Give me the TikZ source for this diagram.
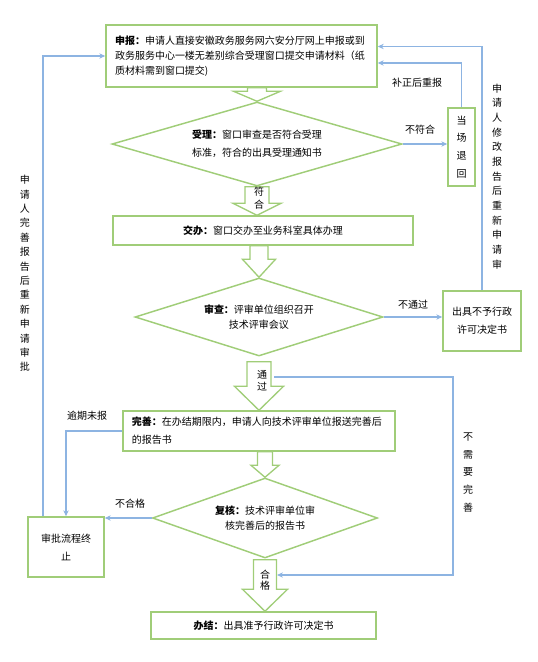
\documentclass[tikz,border=0pt]{standalone}
\usepackage{fontspec}
\setmainfont{Noto Sans CJK SC}
\usetikzlibrary{arrows.meta,calc,shapes.geometric}
\definecolor{boxgreen}{RGB}{160,205,120}
\definecolor{lineblue}{RGB}{141,180,226}

% hollow block arrow: start, tip, shaft half width, head half width, head length
\newcommand{\hollowarrow}[5]{%
  \draw[hollow] let \p1=(#1), \p2=(#2) in
    (\x2-#3,\y1) -- (\x2-#3,\y2+#5) -- (\x2-#4,\y2+#5) -- (\x2,\y2)
    -- (\x2+#4,\y2+#5) -- (\x2+#3,\y2+#5) -- (\x2+#3,\y1) -- cycle;}

\begin{document}
\begin{tikzpicture}[
  x=0.75pt,y=-0.75pt,
  font=\fontsize{7.5pt}{11.25pt}\selectfont,
  box/.style={draw=boxgreen,line width=1.1pt,inner sep=0pt,align=center},
  dia/.style={draw=boxgreen,line width=1.1pt,diamond,inner sep=0pt,align=center},
  hollow/.style={draw=boxgreen,line width=1pt},
  flow/.style={draw=lineblue,line width=.8pt,-{Stealth[length=4.5pt,width=4pt]}},
  lbl/.style={inner sep=0pt},
  vlbl/.style={inner sep=0pt,align=center}
]
\useasboundingbox (0,0) rectangle (538,662);

% main column
\node[box,minimum width=203.25pt,minimum height=46.5pt,text width=189.75pt,align=left] (sb) at (241.5,56)
  {\textbf{申报：}申请人直接安徽政务服务网六安分厅网上申报或到\\政务服务中心一楼无差别综合受理窗口提交申请材料（纸\\质材料需到窗口提交)};
\node[dia,minimum width=217.5pt,minimum height=63pt,shape aspect=3.45,align=left,
  font=\fontsize{7.5pt}{13.5pt}\selectfont] (sl) at (257,144)
  {\textbf{受理：}窗口审查是否符合受理\\标准，符合的出具受理通知书};
\node[box,minimum width=225pt,minimum height=21.75pt] (jb) at (263,230.5)
  {\textbf{交办：}窗口交办至业务科室具体办理};
\node[dia,minimum width=186pt,minimum height=58.5pt,shape aspect=3.18] (sc) at (259,317)
  {\textbf{审查：}评审单位组织召开\\技术评审会议};
\node[box,minimum width=204pt,minimum height=30pt,text width=190.5pt,align=left,
  font=\fontsize{7.5pt}{13.5pt}\selectfont] (ws) at (259,431)
  {\textbf{完善：}在办结期限内，申请人向技术评审单位报送完善后\\的报告书};
\node[dia,minimum width=168.75pt,minimum height=60pt,shape aspect=2.8] (fh) at (265,518)
  {\textbf{复核：}技术评审单位审\\核完善后的报告书};
\node[box,minimum width=168.75pt,minimum height=20.25pt] (bj) at (263.5,625.5)
  {\textbf{办结：}出具准予行政许可决定书};

% side boxes
\node[box,minimum width=20.25pt,minimum height=58.5pt,font=\fontsize{7.5pt}{13.3pt}\selectfont] (dcth) at (461.5,147)
  {当\\场\\退\\回};
\node[box,minimum width=58.5pt,minimum height=45pt,font=\fontsize{7.5pt}{13.5pt}\selectfont] (byxk) at (482,321)
  {出具不予行政\\许可决定书};
\node[box,minimum width=57pt,minimum height=45pt,font=\fontsize{7.5pt}{13.5pt}\selectfont] (zz) at (66,547)
  {审批流程终\\止};

% block arrows
\hollowarrow{sb.south}{sl.north}{7.1pt}{17.6pt}{7.5pt}
\hollowarrow{sl.south}{jb.north -| sl.south}{9pt}{18pt}{9pt}
\hollowarrow{jb.south}{sc.north}{6.75pt}{12.4pt}{13.5pt}
\hollowarrow{$(sc.south)+(0,5)$}{ws.north}{9pt}{18.4pt}{18pt}
\hollowarrow{ws.south}{fh.north}{5.6pt}{10.5pt}{9pt}
\hollowarrow{$(fh.south)+(0,1)$}{bj.north -| fh.south}{8.6pt}{16.9pt}{16.5pt}
\node[vlbl,font=\fontsize{7.5pt}{9.75pt}\selectfont] (fhtxt) at (259,198.5) {符\\合};
\node[vlbl,font=\fontsize{7.5pt}{9pt}\selectfont] (tgtxt) at (262,381) {通\\过};
\node[vlbl,font=\fontsize{7.5pt}{8.25pt}\selectfont] (hgtxt) at (265,580.5) {合\\格};

% blue return lines
\coordinate (lx) at (43,0);
\coordinate (rx) at (453,0);
\coordinate (tg) at (274,377);
\coordinate (hg) at (277,575);
\draw[flow] (zz.north -| lx) |- (sb.west);
\draw[flow] (ws.west) -| (zz.north);
\draw[flow] (fh.west) -- (fh.west -| zz.east);
\draw[flow] (sl.east) -- (sl.east -| dcth.west);
\draw[flow] (dcth.north) |- ($(sb.north east)!.61!(sb.south east)$);
\draw[flow] (sc.east) -- (sc.east -| byxk.west);
\draw[flow] (byxk.north) |- ($(sb.north east)!.35!(sb.south east)$);
\draw[flow] (tg) -| (rx |- hg) -- (hg);

% labels
\node[lbl] (bfh) at (420,130) {不符合};
\node[lbl] (bzh) at (417,83) {补正后重报};
\node[lbl] (btg) at (413,305) {不通过};
\node[lbl] (yqwb) at (87,416) {逾期未报};
\node[lbl] (bhg) at (130,504) {不合格};
\node[vlbl,font=\fontsize{7.5pt}{10.8pt}\selectfont] (wsly) at (25,273.5)
  {申\\请\\人\\完\\善\\报\\告\\后\\重\\新\\申\\请\\审\\批};
\node[vlbl,font=\fontsize{7.5pt}{11pt}\selectfont] (xgly) at (497,176.5)
  {申\\请\\人\\修\\改\\报\\告\\后\\重\\新\\申\\请\\审};
\node[vlbl,font=\fontsize{7.5pt}{13.3pt}\selectfont] (bxyws) at (468,472.5)
  {不\\需\\要\\完\\善};
\end{tikzpicture}
\end{document}
